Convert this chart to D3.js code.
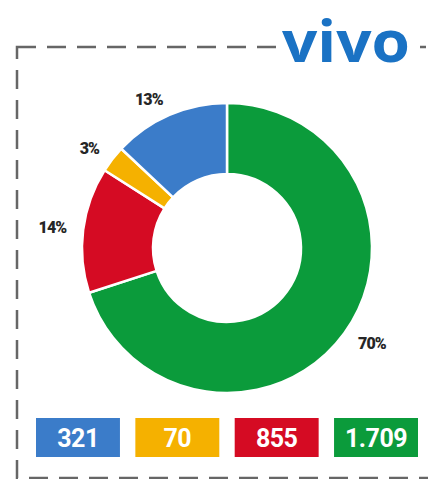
<!DOCTYPE html>
<html><head><meta charset="utf-8">
<script src="https://cdn.jsdelivr.net/npm/d3@7/dist/d3.min.js"></script>
<style>body{margin:0;background:#fff}svg{display:block}</style>
</head><body><svg id="c" width="428" height="479"></svg>
<script>
const categories = ["verde", "vermelho", "amarelo", "azul"];
const percents = [70, 14, 3, 13];
const percentLabels = ["70%", "14%", "3%", "13%"];
const legendOrder = ["azul", "amarelo", "vermelho", "verde"];
const legendValues = ["321", "70", "855", "1.709"];
const colors = {verde:"#0b9b3b", vermelho:"#d50b23", amarelo:"#f5b100", azul:"#3b7cc9"};
const brand = "vivo";

const svg = d3.select("#c");

// dashed frame
svg.append("rect").attr("x",17).attr("y",47).attr("width",430).attr("height",431)
  .attr("fill","none").attr("stroke","#666").attr("stroke-width",2.5)
  .attr("stroke-dasharray","19,11");
// logo
svg.append("rect").attr("x",277).attr("y",30).attr("width",143).attr("height",36).attr("fill","#fff");
svg.append("text").attr("x",346).attr("y",62).attr("text-anchor","middle")
  .attr("font-family","Open Sans, sans-serif").attr("font-weight",700)
  .attr("font-size",57).attr("fill","#1a72c4")
  .attr("textLength",128).attr("lengthAdjust","spacingAndGlyphs")
  .text(brand);

// donut
const cx = 227, cy = 248, R = 145, r = 74;
const g = svg.append("g").attr("transform",`translate(${cx},${cy})`);
const pie = d3.pie().value(d=>d.v).sort(null);
const data = pie(categories.map((c,i)=>({c, v:percents[i], label:percentLabels[i]})));
const arc = d3.arc().innerRadius(r).outerRadius(R);
g.selectAll("path").data(data).join("path")
  .attr("d",arc).attr("fill",d=>colors[d.data.c])
  .attr("stroke","#fff").attr("stroke-width",2.5).attr("stroke-linejoin","round");

const labelR = 162;
g.selectAll("text.lbl").data(data).join("text").attr("class","lbl")
  .each(function(d){
    const a = (d.startAngle+d.endAngle)/2;
    d3.select(this).attr("x", labelR*Math.sin(a)).attr("y", -labelR*Math.cos(a))
      .attr("text-anchor", a > Math.PI ? "end" : "start");
  })
  .attr("dominant-baseline","central")
  .attr("font-family","Roboto, sans-serif").attr("font-weight",900)
  .attr("font-size",16).attr("letter-spacing",-0.9).attr("fill","#262626")
  .text(d=>d.data.label);

// legend boxes
const x = d3.scaleBand().domain(legendOrder).range([36,418]).paddingInner(0.155).paddingOuter(0);
const lg = svg.append("g");
lg.selectAll("rect").data(legendOrder).join("rect")
  .attr("x",d=>x(d)).attr("y",418).attr("width",x.bandwidth()).attr("height",39)
  .attr("fill",d=>colors[d]);
lg.selectAll("text").data(legendOrder).join("text")
  .attr("x",d=>x(d)+x.bandwidth()/2).attr("y",438).attr("text-anchor","middle")
  .attr("dominant-baseline","central")
  .attr("font-family","Roboto, sans-serif").attr("font-weight",700)
  .attr("font-size",25).attr("letter-spacing",-0.5).attr("fill","#fff")
  .text((d,i)=>legendValues[i]);
</script></body></html>
